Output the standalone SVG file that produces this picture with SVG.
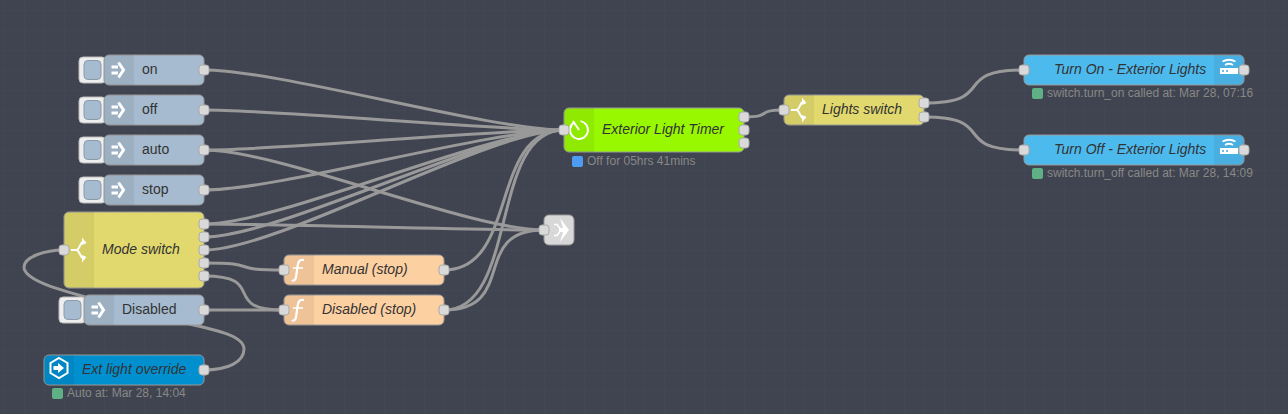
<svg xmlns="http://www.w3.org/2000/svg" width="1288" height="414" viewBox="0 0 1288 414">
<defs>
<pattern id="grid" width="20" height="20" patternUnits="userSpaceOnUse" x="4" y="10"><path d="M0 0H20M0 0V20" fill="none" stroke="#464a56" stroke-width="1"/></pattern>
<g id="arrow"><path d="M-6.500 -4.500H0V-1.500H-6.500ZM-6.500 1.500H0V4.500H-6.500Z" fill="#fff"/><path d="M0.500 -7.500L5.500 0L0.500 7.500" fill="none" stroke="#fff" stroke-width="3"/></g>
<g id="sw"><path d="M-8 0H-3C1 0 1 -8 4 -8M-3 0C1 0 1 8 4 8" fill="none" stroke="#fff" stroke-width="2"/><path d="M3 -12.500L7.500 -7L3 -5ZM3 12.500L7.500 7L3 5Z" fill="#fff"/></g>
<g id="fn"><path d="M5 -10C0 -11 -1 -8 -1.500 -3L-3 7C-3.500 11 -6 11 -7 10" fill="none" stroke="#fff" stroke-width="2.200"/><path d="M-6 -2H4" stroke="#fff" stroke-width="1.500"/></g>
<g id="router"><path d="M-9 -1H9V5H-9Z" fill="#fff"/><path d="M-7 2H-5M-3 2H-1" stroke="#4da5d8" stroke-width="1.500"/><path d="M-6.500 -7.500Q0 -11 6.500 -7.500M-4 -4Q0 -6.500 4 -4" fill="none" stroke="#fff" stroke-width="1.800"/></g>
<g id="nb"><rect x="-25" y="-13" width="27" height="26" rx="4" fill="#eee" stroke="#bbb"/><rect x="-20" y="-9.500" width="17" height="19" rx="4" fill="#a6bbcf" stroke="#8a9bab"/></g>
</defs>
<style>
.n{stroke:#999;stroke-width:1}
.i{fill:#000;fill-opacity:.06}
.p{fill:#d9d9d9;stroke:#aaa;stroke-width:1}
text{font-family:"Liberation Sans",Arial,sans-serif;font-size:14px;fill:#333;dominant-baseline:middle}
.it{font-style:italic}
.s{font-size:12px;fill:#888}
.w{fill:none;stroke:#999;stroke-width:3}
</style>
<rect width="1288" height="414" fill="#404450"/>
<rect width="1288" height="414" fill="url(#grid)"/>
<g id="connectors" class="w">
<path d="M204 70C279 70 489 130 564 130"/>
<path d="M204 110C279 110 489 130 564 130"/>
<path d="M204 150C279 150 489 130 564 130"/>
<path d="M204 150C279 150 469 230 544 230"/>
<path d="M204 190C279 190 489 130 564 130"/>
<path d="M204 224C279 224 489 130 564 130"/>
<path d="M204 224C279 224 469 230 544 230"/>
<path d="M204 237C279 237 489 130 564 130"/>
<path d="M204 250C279 250 489 130 564 130"/>
<path d="M204 263C264 263 224 270 284 270"/>
<path d="M204 276C269 276 219 310 284 310"/>
<path d="M204 310H284"/>
<path d="M444 270C519 270 489 130 564 130"/>
<path d="M444 310C519 310 489 130 564 130"/>
<path d="M444 310C519 310 469 230 544 230"/>
<path d="M744 117C774 117 754 110 784 110"/>
<path d="M924 103C999 103 949 70 1024 70"/>
<path d="M924 117C999 117 949 150 1024 150"/>
<path d="M204 370C228 370 244 362 244 349C244 330 190 327 134 310C90 297 24 285 24 267C24 257 45 250 64 250"/>
</g>
<g id="n-on"><use href="#nb" x="104" y="70"/><rect class="n" x="104" y="55" width="100" height="30" rx="5" fill="#a6bbcf"/><path class="i" d="M109 55H134V85H109A5 5 0 0 1 104 80V60A5 5 0 0 1 109 55Z"/><use href="#arrow" x="118" y="70"/><text x="142" y="70">on</text><rect class="p" x="199" y="65" width="10" height="10" rx="3"/></g>
<g id="n-off"><use href="#nb" x="104" y="110"/><rect class="n" x="104" y="95" width="100" height="30" rx="5" fill="#a6bbcf"/><path class="i" d="M109 95H134V125H109A5 5 0 0 1 104 120V100A5 5 0 0 1 109 95Z"/><use href="#arrow" x="118" y="110"/><text x="142" y="110">off</text><rect class="p" x="199" y="105" width="10" height="10" rx="3"/></g>
<g id="n-auto"><use href="#nb" x="104" y="150"/><rect class="n" x="104" y="135" width="100" height="30" rx="5" fill="#a6bbcf"/><path class="i" d="M109 135H134V165H109A5 5 0 0 1 104 160V140A5 5 0 0 1 109 135Z"/><use href="#arrow" x="118" y="150"/><text x="142" y="150">auto</text><rect class="p" x="199" y="145" width="10" height="10" rx="3"/></g>
<g id="n-stop"><use href="#nb" x="104" y="190"/><rect class="n" x="104" y="175" width="100" height="30" rx="5" fill="#a6bbcf"/><path class="i" d="M109 175H134V205H109A5 5 0 0 1 104 200V180A5 5 0 0 1 109 175Z"/><use href="#arrow" x="118" y="190"/><text x="142" y="190">stop</text><rect class="p" x="199" y="185" width="10" height="10" rx="3"/></g>
<g id="n-mode"><rect class="n" x="64" y="212" width="140" height="76" rx="5" fill="#e2d96e"/><path class="i" d="M69 212H94V288H69A5 5 0 0 1 64 283V217A5 5 0 0 1 69 212Z"/><use href="#sw" x="79" y="250"/><text class="it" x="102" y="250">Mode switch</text><rect class="p" x="59" y="245" width="10" height="10" rx="3"/><rect class="p" x="199" y="219" width="10" height="10" rx="3"/><rect class="p" x="199" y="232" width="10" height="10" rx="3"/><rect class="p" x="199" y="245" width="10" height="10" rx="3"/><rect class="p" x="199" y="258" width="10" height="10" rx="3"/><rect class="p" x="199" y="271" width="10" height="10" rx="3"/></g>
<g id="n-disabled"><use href="#nb" x="84" y="310"/><rect class="n" x="84" y="295" width="120" height="30" rx="5" fill="#a6bbcf"/><path class="i" d="M89 295H114V325H89A5 5 0 0 1 84 320V300A5 5 0 0 1 89 295Z"/><use href="#arrow" x="98" y="310"/><text x="122" y="310">Disabled</text><rect class="p" x="199" y="305" width="10" height="10" rx="3"/></g>
<g id="n-ext"><rect class="n" x="44" y="355" width="160" height="30" rx="5" fill="#0090d0"/><path class="i" d="M49 355H74V385H49A5 5 0 0 1 44 380V360A5 5 0 0 1 49 355Z"/><path d="M59 359L67.500 364V374L59 379L50.500 374V364Z" transform="translate(0,-1)" fill="none" stroke="#fff" stroke-width="2"/><path d="M53.500 366H58V363L64 368L58 373V370H53.500Z" fill="#fff"/><text class="it" x="82" y="370">Ext light override</text><rect class="p" x="199" y="365" width="10" height="10" rx="3"/><rect x="52" y="388" width="11" height="11" rx="2" fill="#5fb085"/><text class="s" x="67" y="394">Auto at: Mar 28, 14:04</text></g>
<g id="n-manual"><rect class="n" x="284" y="255" width="160" height="30" rx="5" fill="#fdd0a2"/><path class="i" d="M289 255H314V285H289A5 5 0 0 1 284 280V260A5 5 0 0 1 289 255Z"/><use href="#fn" x="299" y="270"/><text class="it" x="322" y="270">Manual (stop)</text><rect class="p" x="279" y="265" width="10" height="10" rx="3"/><rect class="p" x="439" y="265" width="10" height="10" rx="3"/></g>
<g id="n-disstop"><rect class="n" x="284" y="295" width="160" height="30" rx="5" fill="#fdd0a2"/><path class="i" d="M289 295H314V325H289A5 5 0 0 1 284 320V300A5 5 0 0 1 289 295Z"/><use href="#fn" x="299" y="310"/><text class="it" x="322" y="310">Disabled (stop)</text><rect class="p" x="279" y="305" width="10" height="10" rx="3"/><rect class="p" x="439" y="305" width="10" height="10" rx="3"/></g>
<g id="n-timer"><rect class="n" x="564" y="108" width="180" height="44" rx="5" fill="#98f800"/><path class="i" d="M569 108H594V152H569A5 5 0 0 1 564 147V113A5 5 0 0 1 569 108Z"/><circle cx="579" cy="130" r="9" fill="none" stroke="#fff" stroke-width="2" stroke-dasharray="50 7" transform="rotate(-80 579 130)"/><path d="M573 121L579 130" stroke="#fff" stroke-width="2"/><text class="it" x="602" y="130">Exterior Light Timer</text><rect class="p" x="559" y="125" width="10" height="10" rx="3"/><rect class="p" x="739" y="112" width="10" height="10" rx="3"/><rect class="p" x="739" y="125" width="10" height="10" rx="3"/><rect class="p" x="739" y="138" width="10" height="10" rx="3"/><rect x="572" y="156" width="11" height="11" rx="2" fill="#4e9cf0"/><text class="s" x="587" y="162">Off for 05hrs 41mins</text></g>
<g id="n-link"><rect class="n" x="544" y="215" width="30" height="30" rx="5" fill="#d8d8d8"/><path d="M554 224.500H557L561 230L557 235.500H554" fill="none" stroke="#fff" stroke-width="1.500"/><path d="M560 218L569 230L560 242L563 232H559V228H563Z" fill="#fff"/><rect class="p" x="539" y="225" width="10" height="10" rx="3"/></g>
<g id="n-lights"><rect class="n" x="784" y="95" width="140" height="30" rx="5" fill="#e2d96e"/><path class="i" d="M789 95H814V125H789A5 5 0 0 1 784 120V100A5 5 0 0 1 789 95Z"/><use href="#sw" x="799" y="110"/><text class="it" x="822" y="110">Lights switch</text><rect class="p" x="779" y="105" width="10" height="10" rx="3"/><rect class="p" x="919" y="98" width="10" height="10" rx="3"/><rect class="p" x="919" y="112" width="10" height="10" rx="3"/></g>
<g id="n-turnon"><rect class="n" x="1024" y="55" width="220" height="30" rx="5" fill="#4dbaee"/><path class="i" d="M1214 55H1239A5 5 0 0 1 1244 60V80A5 5 0 0 1 1239 85H1214Z"/><use href="#router" x="1229" y="69"/><text class="it" x="1054" y="70">Turn On - Exterior Lights</text><rect class="p" x="1019" y="65" width="10" height="10" rx="3"/><rect class="p" x="1239" y="65" width="10" height="10" rx="3"/><rect x="1032" y="88" width="11" height="11" rx="2" fill="#5fb085"/><text class="s" x="1047" y="94">switch.turn_on called at: Mar 28, 07:16</text></g>
<g id="n-turnoff"><rect class="n" x="1024" y="135" width="220" height="30" rx="5" fill="#4dbaee"/><path class="i" d="M1214 135H1239A5 5 0 0 1 1244 140V160A5 5 0 0 1 1239 165H1214Z"/><use href="#router" x="1229" y="149"/><text class="it" x="1054" y="150">Turn Off - Exterior Lights</text><rect class="p" x="1019" y="145" width="10" height="10" rx="3"/><rect class="p" x="1239" y="145" width="10" height="10" rx="3"/><rect x="1032" y="168" width="11" height="11" rx="2" fill="#5fb085"/><text class="s" x="1047" y="174">switch.turn_off called at: Mar 28, 14:09</text></g>
</svg>
